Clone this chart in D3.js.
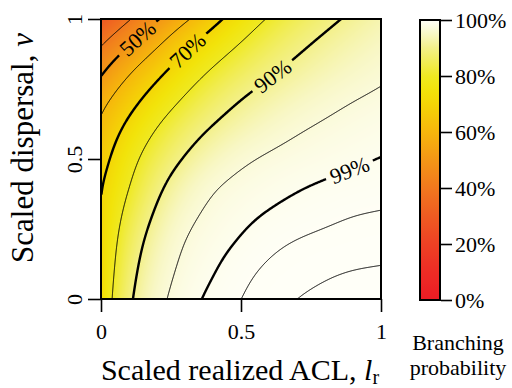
<!DOCTYPE html>
<html><head><meta charset="utf-8">
<script src="https://cdn.jsdelivr.net/npm/d3@7"></script>
<style>
body{margin:0;background:#fff}
svg{display:block}
svg text{font-family:"Liberation Serif","Times New Roman",serif !important;fill:#000}
</style>
</head><body>
<svg id="chart" width="512" height="388" font-family="Liberation Serif"></svg>
<script>
// ---------------- data ----------------
const lrGrid = [0, 0.1, 0.2, 0.3, 0.4, 0.5, 0.6, 0.7, 0.8, 0.9, 1];
const nuGrid = [0, 0.1, 0.2, 0.3, 0.4, 0.5, 0.6, 0.7, 0.8, 0.9, 1];
// branching probability, one row per nu (from nu = 0 to nu = 1), columns along l_r
const probNu00 = [0.7162, 0.8820, 0.9586, 0.9834, 0.99286, 0.99693, 0.99880, 0.99953, 0.99972, 0.99980, 0.99982];
const probNu01 = [0.7116, 0.8660, 0.9481, 0.9780, 0.9886, 0.99541, 0.99785, 0.99882, 0.99935, 0.99956, 0.99960];
const probNu02 = [0.7083, 0.8483, 0.9327, 0.9725, 0.9840, 0.99098, 0.99570, 0.99740, 0.99805, 0.99854, 0.99890];
const probNu03 = [0.7049, 0.8222, 0.9086, 0.9600, 0.9777, 0.9859, 0.9909, 0.99369, 0.99563, 0.99698, 0.99725];
const probNu04 = [0.6980, 0.7916, 0.8809, 0.9382, 0.9690, 0.9783, 0.9845, 0.9890, 0.99159, 0.99335, 0.99475];
const probNu05 = [0.6627, 0.7693, 0.8465, 0.9020, 0.9413, 0.9648, 0.9744, 0.9798, 0.9840, 0.9874, 0.9900];
const probNu06 = [0.6267, 0.7271, 0.8050, 0.8654, 0.9069, 0.9348, 0.9545, 0.9682, 0.9754, 0.9807, 0.9849];
const probNu07 = [0.5783, 0.6696, 0.7488, 0.8129, 0.8660, 0.9038, 0.9292, 0.9478, 0.9614, 0.9710, 0.9766];
const probNu08 = [0.4953, 0.6001, 0.6830, 0.7568, 0.8155, 0.8597, 0.8936, 0.9191, 0.9385, 0.9533, 0.9645];
const probNu09 = [0.4043, 0.5000, 0.5917, 0.6838, 0.7534, 0.8081, 0.8541, 0.8891, 0.9151, 0.9348, 0.9499];
const probNu10 = [0.2839, 0.3905, 0.4907, 0.5812, 0.6704, 0.7471, 0.8068, 0.8500, 0.8836, 0.9105, 0.9324];
const branchingProb = [probNu00, probNu01, probNu02, probNu03, probNu04, probNu05,
                       probNu06, probNu07, probNu08, probNu09, probNu10];

const contourLevels = [0.4, 0.5, 0.6, 0.7, 0.8, 0.9, 0.97, 0.99, 0.997, 0.9995];
const labelledLevels = [0.5, 0.7, 0.9, 0.99];
const labelTexts = ["50%", "70%", "90%", "99%"];

const axisTicks = [0, 0.5, 1];
const axisTickLabels = ["0", "0.5", "1"];
const barTicks = [0, 0.2, 0.4, 0.6, 0.8, 1];
const barTickLabels = ["0%", "20%", "40%", "60%", "80%", "100%"];

const colorStops = [0, 0.1, 0.2, 0.3, 0.4, 0.5, 0.6, 0.7, 0.75, 0.8, 0.9, 0.95, 1];
const colorRange = ["#ec1c24", "#ed2c25", "#ee4124", "#ef5b22", "#f1781e", "#f39616",
                    "#f6b60c", "#f4d506", "#f2e30a", "#efe922", "#f3f089", "#f8f7c5", "#fffff8"];

// ---------------- layout ----------------
const FONT = '"Liberation Serif", "Times New Roman", serif';
const W = 512, H = 388;
const svg = d3.select("#chart");
const x = d3.scaleLinear().domain([0, 1]).range([101, 381]);
const y = d3.scaleLinear().domain([0, 1]).range([299, 19]);
const color = d3.scaleLinear().domain(colorStops).range(colorRange).clamp(true);

// ---------------- smooth field for rendering (cubic B-spline through the grid) ----------------
const n = Math.round(x(1) - x(0));
const gx = d3.scaleLinear().domain(d3.extent(lrGrid)).range([0, lrGrid.length - 1]);
const gy = d3.scaleLinear().domain(d3.extent(nuGrid)).range([0, nuGrid.length - 1]);
const logGrid = branchingProb.map(r => r.map(p => -Math.log10(1 - p)));
function spline(arr, s) {
  const m = arr.length;
  let i = Math.min(Math.max(Math.floor(s), 0), m - 2);
  const t = s - i;
  const g = k => k < 0 ? 2 * arr[0] - arr[1] : (k > m - 1 ? 2 * arr[m - 1] - arr[m - 2] : arr[k]);
  const p0 = g(i - 1), p1 = g(i), p2 = g(i + 1), p3 = g(i + 2);
  const t2 = t * t, t3 = t2 * t;
  return ((1 - t) ** 3 * p0 + (3 * t3 - 6 * t2 + 4) * p1 + (-3 * t3 + 3 * t2 + 3 * t + 1) * p2 + t3 * p3) / 6;
}
const us = d3.range(n).map(i => (i + 0.5) / n);
const rowFine = logGrid.map(r => us.map(u => spline(r, gx(u))));
const cols = us.map((u, i) => rowFine.map(r => r[i]));
const field = new Float64Array(n * n);
for (let j = 0; j < n; j++) {
  const s = gy(1 - (j + 0.5) / n);
  for (let i = 0; i < n; i++) {
    field[j * n + i] = 1 - Math.pow(10, -spline(cols[i], s));
  }
}

// heat map image
const cv = document.createElement("canvas");
cv.width = n; cv.height = n;
const ctx = cv.getContext("2d");
const img = ctx.createImageData(n, n);
for (let k = 0; k < n * n; k++) {
  const c = d3.rgb(color(field[k]));
  img.data[4 * k] = c.r; img.data[4 * k + 1] = c.g; img.data[4 * k + 2] = c.b; img.data[4 * k + 3] = 255;
}
ctx.putImageData(img, 0, 0);

const defs = svg.append("defs");
defs.append("clipPath").attr("id", "plotclip").append("rect")
  .attr("x", x(0)).attr("y", y(1)).attr("width", x(1) - x(0)).attr("height", y(0) - y(1));

svg.append("image")
  .attr("x", x(0)).attr("y", y(1)).attr("width", x(1) - x(0)).attr("height", y(0) - y(1))
  .attr("preserveAspectRatio", "none")
  .attr("href", cv.toDataURL());

// ---------------- contour lines ----------------
const contours = d3.contours().size([n, n]).thresholds(contourLevels)(field);
const eps = 1e-9;
const onEdge = p => p[0] <= eps || p[0] >= n - eps || p[1] <= eps || p[1] >= n - eps;
function isolines(geom) {
  const out = [];
  geom.coordinates.forEach(poly => poly.forEach(ring => {
    let pts = ring.slice();
    const f = pts[0], l = pts[pts.length - 1];
    if (f[0] === l[0] && f[1] === l[1]) pts.pop();
    const m = pts.length;
    const start = pts.findIndex(onEdge);
    if (start < 0) { out.push(pts.concat([pts[0]])); return; }
    let cur = null;
    for (let k = 0; k <= m; k++) {
      const p = pts[(start + k) % m];
      if (onEdge(p)) {
        if (cur) { cur.push(p); if (cur.length > 2) out.push(cur); }
        cur = [p];
      } else cur.push(p);
    }
  }));
  return out.map(line => line.map(p => [x(p[0] / n), y(1 - p[1] / n)]));
}
const lineGen = d3.line();
const mask = defs.append("mask").attr("id", "lblmask").attr("maskUnits", "userSpaceOnUse")
  .attr("x", 0).attr("y", 0).attr("width", W).attr("height", H);
mask.append("rect").attr("width", W).attr("height", H).attr("fill", "white");

const cg = svg.append("g").attr("clip-path", "url(#plotclip)");
const lg = cg.append("g").attr("mask", "url(#lblmask)");
const levelLines = contours.map(c => ({ value: c.value, lines: isolines(c) }));
levelLines.forEach(L => {
  const thick = labelledLevels.some(v => Math.abs(v - L.value) < 1e-9);
  L.lines.forEach(line => {
    lg.append("path").attr("d", lineGen(line)).attr("fill", "none")
      .attr("stroke", "#000").attr("stroke-width", thick ? 2.4 : 1.0)
      .attr("stroke-linejoin", "round");
  });
});

// label anchors (pixel targets where the labels sit along their lines)
const labelTargets = [[140, 41], [188, 50], [273, 77], [350, 170]];
labelledLevels.forEach((lev, li) => {
  const L = levelLines.find(d => Math.abs(d.value - lev) < 1e-9);
  if (!L) return;
  const tgt = labelTargets[li];
  let best = null;
  L.lines.forEach(line => line.forEach((p, idx) => {
    const d2 = (p[0] - tgt[0]) ** 2 + (p[1] - tgt[1]) ** 2;
    if (!best || d2 < best.d2) best = { d2, line, idx };
  }));
  if (!best) return;
  const line = best.line, c = line[best.idx];
  const far = dir => {
    let k = best.idx;
    while (k + dir >= 0 && k + dir < line.length) {
      k += dir;
      if (Math.hypot(line[k][0] - c[0], line[k][1] - c[1]) > 14) break;
    }
    return line[k];
  };
  const a = far(-1), b = far(1);
  let ang = Math.atan2(b[1] - a[1], b[0] - a[0]) * 180 / Math.PI;
  if (ang > 90) ang -= 180;
  if (ang < -90) ang += 180;
  const t = svg.append("text")
    .attr("transform", `translate(${c[0]},${c[1]}) rotate(${ang})`)
    .attr("text-anchor", "middle").attr("dy", "0.35em")
    .attr("font-family", FONT).style("font-size", "22px").text(labelTexts[li]);
  const w = t.node().getComputedTextLength();
  mask.append("rect").attr("x", -w / 2 - 5).attr("y", -9).attr("width", w + 10).attr("height", 18)
    .attr("fill", "black").attr("transform", `translate(${c[0]},${c[1]}) rotate(${ang})`);
});

// plot box
svg.append("rect").attr("x", x(0)).attr("y", y(1)).attr("width", x(1) - x(0)).attr("height", y(0) - y(1))
  .attr("fill", "none").attr("stroke", "#000").attr("stroke-width", 2);

// ---------------- axes ----------------
const xAxis = svg.append("g").attr("transform", `translate(0,${y(0)})`)
  .call(d3.axisBottom(x).tickValues(axisTicks).tickSize(13).tickPadding(11)
    .tickFormat((d, i) => axisTickLabels[i]));
const yAxis = svg.append("g").attr("transform", `translate(${x(0)},0)`)
  .call(d3.axisLeft(y).tickValues(axisTicks).tickSize(13).tickFormat((d, i) => axisTickLabels[i]));
[xAxis, yAxis].forEach(g => {
  g.attr("font-family", FONT);
  g.select(".domain").remove();
  g.selectAll(".tick line").attr("stroke", "#000").attr("stroke-width", 1.6);
  g.selectAll(".tick text").attr("font-family", FONT).style("font-size", "22px").attr("fill", "#000");
});
yAxis.selectAll(".tick text").attr("x", null).attr("dy", null)
  .attr("text-anchor", "middle").attr("transform", "translate(-19,0) rotate(-90)");

// axis titles
const xt = svg.append("text").attr("x", x(0.5) - 1).attr("y", 380).attr("text-anchor", "middle")
  .attr("font-family", FONT).style("font-size", "30px");
xt.append("tspan").text("Scaled realized ACL, ");
xt.append("tspan").style("font-style", "italic").text("l");
xt.append("tspan").attr("dy", 4).style("font-size", "20px").text("r");

const yt = svg.append("text").attr("transform", `translate(33,${y(0.5) - 11}) rotate(-90)`)
  .attr("text-anchor", "middle").attr("font-family", FONT).style("font-size", "31px");
yt.append("tspan").text("Scaled dispersal, ");
yt.append("tspan").style("font-style", "italic").text("ν");

// ---------------- colour bar ----------------
const bar = d3.scaleLinear().domain([0, 1]).range([300, 20]);
const grad = defs.append("linearGradient").attr("id", "bargrad")
  .attr("x1", 0).attr("y1", 1).attr("x2", 0).attr("y2", 0);
d3.range(0, 1.0001, 0.02).forEach(v => {
  grad.append("stop").attr("offset", v).attr("stop-color", color(v));
});
svg.append("rect").attr("x", 420).attr("y", bar(1)).attr("width", 20).attr("height", bar(0) - bar(1))
  .attr("fill", "url(#bargrad)").attr("stroke", "#000").attr("stroke-width", 2);
const barAxis = svg.append("g").attr("transform", "translate(441,0)")
  .call(d3.axisRight(bar).tickValues(barTicks).tickSize(11).tickPadding(3)
    .tickFormat((d, i) => barTickLabels[i]));
barAxis.attr("font-family", FONT);
barAxis.select(".domain").remove();
barAxis.selectAll(".tick line").attr("stroke", "#000").attr("stroke-width", 1.6);
barAxis.selectAll(".tick text").attr("font-family", FONT).style("font-size", "22px").attr("fill", "#000");

svg.append("text").attr("x", 458).attr("y", 350).attr("text-anchor", "middle")
  .attr("font-family", FONT).style("font-size", "22px").text("Branching");
svg.append("text").attr("x", 458).attr("y", 375).attr("text-anchor", "middle")
  .attr("font-family", FONT).style("font-size", "22px").text("probability");
</script>
</body></html>
